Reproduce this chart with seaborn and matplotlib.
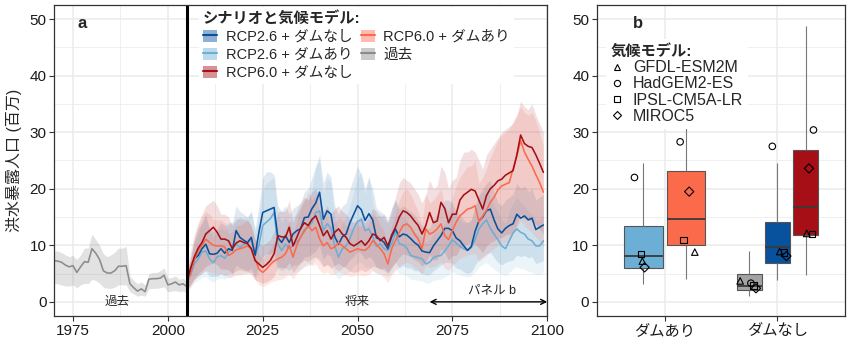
import numpy as np
import pandas as pd
import matplotlib
matplotlib.use("Agg")
import matplotlib.pyplot as plt
from matplotlib.patches import Patch
from matplotlib.lines import Line2D
from matplotlib.ticker import MultipleLocator
import seaborn as sns

sns.set_theme(style="white")
FONT = ["Liberation Sans", "Noto Sans CJK JP"]
plt.rcParams["font.family"] = FONT

# ---------------- panel a: time series ----------------
hist_years = list(range(1970, 2006))
hist_mean = [7.3, 7.2, 7.0, 6.5, 6.2, 6.4, 5.2, 6.2, 7.1, 7.0,
             9.4, 8.6, 7.5, 5.5, 5.1, 5.1, 5.5, 6.3, 6.3, 6.4,
             3.2, 2.5, 1.9, 2.3, 1.8, 4.0, 4.1, 4.1, 4.2, 4.7,
             3.0, 3.2, 3.5, 3.0, 3.2, 2.7]
hist_low = [3.3, 3.2, 3.0, 2.8, 2.8, 3.0, 2.5, 3.0, 3.3, 3.2,
            4.0, 3.8, 3.3, 2.6, 2.4, 2.4, 2.6, 3.0, 3.0, 3.0,
            1.8, 1.4, 1.0, 1.2, 1.0, 2.3, 2.4, 2.4, 2.5, 2.7,
            1.8, 1.9, 2.0, 1.8, 1.9, 1.6]
hist_high = [9.0, 9.0, 8.7, 8.3, 8.0, 8.2, 7.5, 8.3, 9.5, 9.5,
             12.0, 11.0, 10.0, 8.5, 8.0, 8.3, 8.8, 9.5, 9.5, 9.8,
             4.5, 3.8, 3.2, 3.5, 3.0, 5.0, 5.2, 5.2, 5.5, 6.0,
             4.2, 4.3, 4.6, 4.0, 4.2, 3.7]

fut_years = list(range(2005, 2100))

# RCP2.6 + no dams
r26n_mean = [3.8, 5.5, 7.6, 8.2, 9.4, 10.2, 8.5, 8.4, 8.6, 9.4,
             8.6, 9.4, 9.1, 12.6, 11.4, 10.9, 10.5, 11.4, 8.2, 12.3,
             15.8, 16.1, 16.4, 16.7, 11.4, 10.5, 11.7, 10.5, 12.0, 12.6,
             12.9, 14.9, 15.0, 16.5, 17.5, 19.4, 14.6, 16.1, 15.5, 11.5,
             10.2, 11.5, 12.0, 14.0, 15.5, 17.0, 16.3, 14.4, 15.6, 14.5,
             11.3, 11.1, 10.5, 9.4, 11.5, 12.9, 11.5, 12.0, 11.8, 11.2,
             10.5, 10.0, 9.0, 8.8, 8.7, 9.9, 10.8, 11.7, 13.0, 13.0,
             12.6, 11.3, 10.8, 9.9, 9.1, 9.8, 12.5, 14.3, 15.0, 16.1,
             16.4, 14.5, 12.9, 12.2, 13.0, 13.5, 13.8, 15.5, 14.8, 15.2,
             14.5, 14.8, 12.8, 13.2, 13.6]
r26n_high = [5, 8, 11, 13, 14, 15.5, 13, 12.5, 13, 14,
             13.5, 14, 14, 17, 16, 15.5, 15, 16, 13, 17,
             22, 23, 23, 22.5, 17, 16, 17, 15.5, 16.5, 17,
             17.5, 19.5, 20, 22, 24, 26, 21, 23, 22, 17,
             15.5, 17, 17.5, 20, 22, 24, 22.5, 20, 22, 20,
             16.5, 16, 15.5, 14.5, 16.5, 18, 16.5, 17, 16.5, 16,
             15.5, 14.5, 13.5, 13, 13, 14.5, 15.5, 16.5, 18, 18,
             17.5, 16, 15.5, 14.5, 14, 14.5, 17, 19, 20, 21,
             21.5, 19.5, 17.5, 17, 18, 18.5, 19, 21, 20, 20.5,
             19.5, 20, 18, 18.5, 19]
r26n_low = [2.5, 3, 4, 4.5, 5, 5.5, 4.5, 4.5, 4.5, 5,
            4.5, 5, 5, 6.5, 6, 5.8, 5.5, 6, 4.5, 6.5,
            8, 8.5, 8.5, 9, 6, 5.5, 6, 5.5, 6.5, 6.5,
            7, 8, 8, 8.5, 9, 10, 7.5, 8.5, 8, 6,
            5.5, 6, 6.5, 7.5, 8, 9, 8.5, 7.5, 8, 7.5,
            6, 6, 5.5, 5, 6, 7, 6, 6.5, 6, 6,
            5.5, 5.5, 5, 4.8, 4.8, 5.5, 6, 6.5, 7, 7,
            6.8, 6, 5.8, 5.3, 5, 5.3, 6.5, 7.5, 8, 8.5,
            8.8, 7.8, 7, 6.5, 7, 7.2, 7.4, 8.3, 8, 8.2,
            7.8, 8, 6.8, 7, 7.3]

# RCP2.6 + dams
r26d_mean = [3.8, 4.7, 6.7, 7.6, 8.8, 9.0, 7.6, 6.9, 8.0, 8.2,
             7.7, 8.8, 9.4, 10.2, 9.6, 10.2, 10.3, 11.1, 8.2, 10.0,
             13.5, 14.1, 14.7, 15.8, 10.2, 9.1, 10.2, 9.4, 10.0, 10.6,
             11.4, 12.8, 13.2, 14.0, 15.8, 16.1, 12.6, 13.8, 13.0, 9.9,
             7.9, 9.4, 9.9, 11.2, 13.0, 14.2, 14.6, 12.6, 12.9, 11.5,
             9.8, 10.3, 9.4, 9.1, 10.2, 12.3, 10.3, 10.1, 9.5, 8.2,
             8.0, 7.8, 7.6, 6.7, 7.0, 7.8, 8.1, 8.2, 9.0, 9.9,
             11.0, 10.4, 9.8, 9.4, 9.1, 9.6, 11.0, 12.9, 13.8, 14.5,
             13.0, 12.0, 11.0, 9.9, 9.4, 10.8, 12.2, 12.9, 12.3, 12.0,
             11.1, 10.8, 9.9, 9.9, 10.8]
r26d_high = [5, 7.5, 10.5, 12, 14, 15, 12.5, 11.5, 12.5, 13,
             12.5, 13.5, 14, 15, 14.5, 15, 15, 16, 12.5, 15,
             20, 21, 21.5, 22, 15.5, 14, 15, 14, 15, 15.5,
             16.5, 18, 18.5, 20, 24, 25, 19, 22, 21, 15,
             12.5, 14, 15, 17, 19.5, 22, 23, 19, 22.5, 17.5,
             15, 15.5, 14.5, 14, 15.5, 18, 15.5, 15, 14.5, 13,
             12.5, 12, 11.5, 10.5, 11, 12, 12.5, 13, 14, 15,
             16.5, 15.5, 14.5, 14, 14, 14.5, 16.5, 18.5, 19.5, 20,
             18.5, 17, 16, 14.5, 14, 16, 17.5, 18.5, 17.5, 17,
             16, 15.5, 14.5, 14.5, 15.5]
r26d_low = [2.3, 2.6, 3.4, 3.8, 4.3, 4.5, 3.8, 3.5, 4, 4.2,
            4, 4.4, 4.6, 5, 4.7, 5, 5, 5.4, 4.1, 5,
            6.5, 6.8, 7, 7.5, 5, 4.5, 5, 4.6, 5, 5.2,
            5.6, 6.2, 6.4, 6.8, 7.6, 7.8, 6.2, 6.7, 6.4, 4.9,
            4, 4.6, 4.9, 5.5, 6.3, 6.9, 7, 6.1, 6.3, 5.6,
            4.8, 5, 4.6, 4.5, 5, 6, 5, 4.9, 4.6, 4,
            3.9, 3.8, 3.7, 3.3, 3.4, 3.8, 3.9, 4, 4.4, 4.8,
            5.3, 5, 4.7, 4.5, 4.4, 4.6, 5.3, 6.2, 6.6, 7,
            6.3, 5.8, 5.3, 4.8, 4.6, 5.2, 5.9, 6.2, 5.9, 5.8,
            5.4, 5.2, 4.8, 4.8, 5.2]

# RCP6.0 + no dams
r60n_mean = [3.5, 6.0, 8.0, 9.5, 10.5, 12.0, 12.6, 13.2, 12.3, 11.1,
             11.1, 10.8, 9.4, 10.4, 10.8, 10.5, 10.3, 9.4, 7.3, 6.7,
             6.1, 6.6, 7.3, 8.5, 11.7, 11.5, 11.4, 13.2, 9.9, 11.4,
             13.0, 14.0, 13.5, 14.6, 15.2, 13.5, 11.7, 12.6, 11.1, 12.3,
             12.9, 12.0, 11.4, 10.3, 9.9, 10.3, 10.8, 10.0, 10.8, 12.0,
             11.7, 10.8, 11.4, 9.9, 11.8, 13.2, 15.0, 16.1, 15.8, 15.2,
             14.3, 13.5, 12.0, 13.5, 15.8, 14.0, 14.3, 17.6, 16.5, 14.0,
             15.5, 15.5, 18.0, 18.9, 19.4, 19.9, 19.6, 18.0, 16.4, 18.8,
             20.0, 20.6, 21.4, 21.7, 22.4, 22.8, 23.2, 26.0, 29.5, 28.0,
             27.5, 27.3, 26.0, 24.5, 22.9]
r60n_high = [5, 9, 12, 14, 15.5, 17, 17.5, 18, 17, 15.5,
             15.5, 15, 13.5, 14.5, 15, 14.5, 14.5, 13.5, 11, 10.5,
             10, 10.5, 11, 12.5, 16, 16, 16, 18, 14, 16,
             17.5, 18.5, 18, 19.5, 20, 18, 16, 17, 15.5, 16.5,
             17, 16, 15.5, 14.5, 14, 14.5, 15, 14, 15, 16.5,
             16, 15, 15.5, 14, 16.5, 18.5, 21, 22, 21.5, 21,
             20, 19, 17.5, 19, 21.5, 20, 20.5, 24, 23, 20,
             21.5, 22, 25, 26.5, 26.5, 27, 26.5, 25, 23.5, 26,
             27, 28, 29, 30, 30.5, 31, 31.5, 33, 35.5, 34.5,
             34, 35, 33, 31.5, 30]
r60n_low = [2, 3.2, 4.2, 5, 5.5, 6.3, 6.6, 7, 6.5, 5.8,
            5.8, 5.7, 5, 5.5, 5.7, 5.5, 5.4, 5, 3.9, 3.6,
            3.3, 3.5, 3.9, 4.5, 6.2, 6.1, 6, 7, 5.2, 6,
            6.9, 7.4, 7.1, 7.7, 8, 7.1, 6.2, 6.6, 5.9, 6.5,
            6.8, 6.3, 6, 5.4, 5.2, 5.4, 5.7, 5.3, 5.7, 6.3,
            6.2, 5.7, 6, 5.2, 6.2, 7, 7.9, 8.5, 8.3, 8,
            7.5, 7.1, 6.3, 7.1, 8.3, 7.4, 7.5, 9.3, 8.7, 7.4,
            8.2, 8.2, 9.5, 10, 10.2, 10.5, 10.3, 9.5, 8.7, 9.9,
            10.5, 10.8, 11.2, 11.4, 11.8, 12, 12.2, 13.7, 15.5, 14.7,
            14.5, 14.4, 13.7, 12.9, 12]

# RCP6.0 + dams
r60d_mean = [3.2, 5.0, 7.5, 9.0, 10.0, 11.1, 10.5, 10.0, 9.9, 9.9,
             9.7, 8.2, 8.6, 9.2, 9.4, 9.6, 9.9, 9.4, 7.6, 5.8,
             5.2, 5.8, 6.6, 7.2, 7.6, 7.9, 8.5, 10.0, 7.9, 10.0,
             11.5, 12.5, 13.5, 12.6, 13.2, 11.1, 9.9, 10.5, 9.4, 9.7,
             10.5, 9.9, 9.4, 8.8, 9.1, 9.4, 9.2, 9.1, 9.7, 10.8,
             10.2, 9.4, 8.5, 6.7, 9.4, 10.8, 12.3, 13.5, 13.8, 13.2,
             12.0, 11.1, 9.4, 12.9, 12.0, 12.3, 12.9, 13.8, 11.7, 11.0,
             12.6, 14.1, 15.2, 15.8, 16.4, 16.6, 17.0, 14.1, 15.2, 16.2,
             17.6, 18.5, 19.8, 20.5, 20.8, 21.1, 23.5, 25.8, 28.5, 26.5,
             25.2, 24.0, 22.5, 21.1, 19.4]
r60d_high = [4.5, 7.5, 11, 13.5, 15, 16, 15.5, 14.5, 14.5, 14.5,
             14, 12, 12.5, 13.5, 13.5, 14, 14.5, 13.5, 11, 8.5,
             7.5, 8.5, 9.5, 10.5, 11, 11.5, 12.5, 14.5, 11.5, 14.5,
             16.5, 18, 19.5, 18, 19, 16, 14.5, 15, 13.5, 14,
             15, 14.5, 13.5, 13, 13, 13.5, 13.5, 13, 14, 15.5,
             15, 13.5, 12.5, 10, 13.5, 15.5, 18, 19.5, 20, 19,
             17.5, 16, 14, 19, 17.5, 18, 19, 20, 17, 16,
             18.5, 20.5, 22, 23, 24, 24, 25, 21, 22, 23.5,
             25.5, 27, 28.5, 29.5, 30, 30.5, 32, 33, 34.5, 33.5,
             33, 33.5, 32, 30, 27.5]
r60d_low = [1.8, 2.6, 3.9, 4.6, 5.1, 5.6, 5.3, 5.1, 5, 5,
            4.9, 4.2, 4.4, 4.7, 4.8, 4.9, 5, 4.8, 3.9, 3,
            2.7, 3, 3.4, 3.7, 3.9, 4, 4.3, 5.1, 4, 5.1,
            5.8, 6.3, 6.8, 6.4, 6.7, 5.6, 5, 5.3, 4.8, 4.9,
            5.3, 5, 4.8, 4.5, 4.6, 4.8, 4.7, 4.6, 4.9, 5.5,
            5.2, 4.8, 4.3, 3.4, 4.8, 5.5, 6.2, 6.8, 7, 6.7,
            6.1, 5.6, 4.8, 6.5, 6.1, 6.2, 6.5, 7, 5.9, 5.6,
            6.4, 7.1, 7.7, 8, 8.3, 8.4, 8.6, 7.1, 7.7, 8.2,
            8.9, 9.4, 10, 10.4, 10.5, 10.7, 11.9, 13.1, 14.4, 13.4,
            12.8, 12.2, 11.4, 10.7, 9.8]

scenario_labels = ["RCP2.6 + ダムなし", "RCP2.6 + ダムあり",
                   "RCP6.0 + ダムなし", "RCP6.0 + ダムあり", "過去"]
scenario_colors = ["#08519C", "#6BAED6", "#A50F15", "#FB6A4A", "#8C8C8C"]
palette = dict(zip(scenario_labels, scenario_colors))
ribbon_alpha = {"過去": 0.25, "RCP2.6 + ダムあり": 0.13, "RCP2.6 + ダムなし": 0.12,
                "RCP6.0 + ダムあり": 0.15, "RCP6.0 + ダムなし": 0.13}

series = {
    "過去": (hist_years, hist_mean, hist_low, hist_high),
    "RCP2.6 + ダムあり": (fut_years, r26d_mean, r26d_low, r26d_high),
    "RCP2.6 + ダムなし": (fut_years, r26n_mean, r26n_low, r26n_high),
    "RCP6.0 + ダムあり": (fut_years, r60d_mean, r60d_low, r60d_high),
    "RCP6.0 + ダムなし": (fut_years, r60n_mean, r60n_low, r60n_high),
}

lines_df = pd.concat(
    [pd.DataFrame({"year": s[0], "value": s[1], "scenario": name})
     for name, s in series.items()],
    ignore_index=True)

# ---------------- panel b: 2070-2099 distributions ----------------
categories = ["ダムあり", "ダムなし"]
# five-number summaries: min, lower quartile, median, upper quartile, max
box_r26_dam = [3.1, 5.9, 8.1, 13.4, 24.5]
box_r60_dam = [4.1, 10.1, 14.6, 23.2, 38.5]
box_hist = [1.1, 2.1, 2.8, 5.0, 9.0]
box_r26_nodam = [3.9, 6.9, 9.7, 14.1, 24.5]
box_r60_nodam = [4.7, 11.9, 16.8, 26.9, 48.8]

box_groups = {
    "ダムあり": [("RCP2.6 + ダムあり", box_r26_dam), ("RCP6.0 + ダムあり", box_r60_dam)],
    "ダムなし": [("過去", box_hist), ("RCP2.6 + ダムなし", box_r26_nodam),
               ("RCP6.0 + ダムなし", box_r60_nodam)],
}
box_fill = {
    "RCP2.6 + ダムあり": "#6BAED6", "RCP6.0 + ダムあり": "#FB6A4A",
    "過去": "#A3A3A3", "RCP2.6 + ダムなし": "#08519C", "RCP6.0 + ダムなし": "#A50F15",
}

models = ["GFDL-ESM2M", "HadGEM2-ES", "IPSL-CM5A-LR", "MIROC5"]
model_markers = {"GFDL-ESM2M": "^", "HadGEM2-ES": "o",
                 "IPSL-CM5A-LR": "s", "MIROC5": "D"}
# model means per box (order follows `models`)
pts_r26_dam = [7.2, 22.0, 8.5, 6.1]
pts_r60_dam = [8.8, 28.3, 10.9, 19.5]
pts_hist = [3.7, 3.3, 2.9, 2.4]
pts_r26_nodam = [8.9, 27.5, 8.7, 8.1]
pts_r60_nodam = [12.1, 30.4, 12.0, 23.6]
# horizontal jitter of the model points inside each box
jit_r26_dam = [-0.01, -0.08, -0.02, 0.01]
jit_r60_dam = [0.08, -0.05, -0.02, 0.03]
jit_hist = [-0.08, 0.015, 0.04, 0.06]
jit_r26_nodam = [0.02, -0.045, 0.06, 0.08]
jit_r60_nodam = [0.01, 0.07, 0.055, 0.03]
points = {
    "RCP2.6 + ダムあり": (pts_r26_dam, jit_r26_dam),
    "RCP6.0 + ダムあり": (pts_r60_dam, jit_r60_dam),
    "過去": (pts_hist, jit_hist),
    "RCP2.6 + ダムなし": (pts_r26_nodam, jit_r26_nodam),
    "RCP6.0 + ダムなし": (pts_r60_nodam, jit_r60_nodam),
}

# ---------------- figure ----------------
fig = plt.figure(figsize=(8.51, 3.40), dpi=100)
ax = fig.add_axes([0.0635, 0.0706, 0.5795, 0.9147])
axb = fig.add_axes([0.7015, 0.0706, 0.2915, 0.9147])

GRID = "#EBEBEB"
FRAME = "#333333"
TICK_FS = 11
LEG_FS = 10.5


def style_axes(a):
    a.set_axisbelow(True)
    a.grid(which="major", color=GRID, linewidth=1.1)
    a.grid(which="minor", color=GRID, linewidth=0.55)
    for sp in a.spines.values():
        sp.set_color(FRAME)
        sp.set_linewidth(0.9)
        sp.set_visible(True)
    a.tick_params(which="major", direction="out", length=3.5, width=0.8,
                  color=FRAME, labelsize=TICK_FS, labelcolor="#1A1A1A",
                  bottom=True, left=True, pad=2)
    a.tick_params(which="minor", length=0)
    a.set_ylim(-2.5, 52.5)
    a.yaxis.set_major_locator(MultipleLocator(10))
    a.yaxis.set_minor_locator(MultipleLocator(5))


# panel a
style_axes(ax)
for name, (yrs, m, lo, hi) in series.items():
    ax.fill_between(yrs, lo, hi, color=palette[name],
                    alpha=ribbon_alpha[name], linewidth=0)
sns.lineplot(data=lines_df, x="year", y="value", hue="scenario",
             hue_order=list(series.keys()), palette=palette,
             linewidth=1.15, errorbar=None, legend=False, ax=ax)
ax.axvline(2005, color="black", linewidth=2.2)
ax.set_xlim(1970, 2100)
ax.xaxis.set_major_locator(MultipleLocator(25))
ax.xaxis.set_minor_locator(MultipleLocator(12.5))
ax.set_xlabel("")
ax.set_ylabel("洪水暴露人口 (百万)", fontsize=11.5, labelpad=5)

ax.text(1986.5, 0, "過去", ha="center", va="center", fontsize=9)
ax.text(2050, 0, "将来", ha="center", va="center", fontsize=9)
ax.text(2085.5, 2.0, "パネル b", ha="center", va="center", fontsize=9)
ax.annotate("", xy=(2100, 0), xytext=(2069, 0),
            arrowprops=dict(arrowstyle="<->", color="black", lw=1.0,
                            shrinkA=0, shrinkB=0, mutation_scale=9),
            annotation_clip=False)
ax.text(1977.4, 49.3, "a", ha="center", va="center",
        fontsize=12, fontweight="bold")

handles = [(Patch(facecolor=palette[n], alpha=0.45, edgecolor="none"),
            Line2D([], [], color=palette[n], linewidth=1.5))
           for n in scenario_labels]
leg = ax.legend(handles, scenario_labels, ncol=2, loc="upper left",
                bbox_to_anchor=(0.293, 0.995), frameon=True,
                title="シナリオと気候モデル:", fontsize=LEG_FS,
                title_fontproperties={"weight": "bold", "size": 11,
                                      "family": FONT},
                alignment="left", handlelength=1.0, handleheight=0.9,
                handletextpad=0.55, columnspacing=0.6, labelspacing=0.27,
                borderpad=0.3, borderaxespad=0.0)
leg.get_frame().set_facecolor("white")
leg.get_frame().set_edgecolor("none")
leg.get_frame().set_alpha(1.0)

# panel b
style_axes(axb)
box_rows, pt_rows = [], []
for ci, cat in enumerate(categories, start=1):
    members = box_groups[cat]
    n = len(members)
    slot = 0.75 / n
    for k, (name, stats) in enumerate(members):
        pos = ci + (k - (n - 1) / 2) * slot
        for v in stats:
            box_rows.append({"group": cat, "pos": pos, "value": v, "scenario": name})
        vals, jit = points[name]
        for mdl, v, j in zip(models, vals, jit):
            pt_rows.append({"x": pos + j, "value": v, "model": mdl})
box_df = pd.DataFrame(box_rows)
pt_df = pd.DataFrame(pt_rows)

for cat in categories:
    sub = box_df[box_df["group"] == cat]
    sns.boxplot(data=sub, x="pos", y="value", hue="scenario", palette=box_fill,
                native_scale=True, width=0.9, dodge=False, whis=(0, 100),
                saturation=1, linecolor="#555555", linewidth=0.8,
                legend=False, ax=axb, orient="x",
                whiskerprops={"color": "#777777", "linewidth": 0.8},
                capprops={"visible": False},
                medianprops={"color": "#3A3A3A", "linewidth": 1.3})

sns.scatterplot(data=pt_df, x="x", y="value", style="model",
                style_order=models, markers=model_markers, s=22,
                color="black", linewidth=0.8, legend=False, ax=axb, zorder=5)
for coll in axb.collections:
    if coll.get_zorder() == 5:
        coll.set_facecolor("none")
        coll.set_edgecolor("black")

axb.set_xlim(0.4, 2.6)
axb.set_xticks([1, 2])
axb.set_xticklabels(categories)
axb.xaxis.set_minor_locator(plt.NullLocator())
axb.set_xlabel("")
axb.set_ylabel("")
axb.text(0.76, 49.3, "b", ha="center", va="center",
         fontsize=12, fontweight="bold")

mhandles = [Line2D([], [], linestyle="none", marker=model_markers[m],
                   markerfacecolor="none", markeredgecolor="black",
                   markersize=4.5, markeredgewidth=0.8) for m in models]
legb = axb.legend(mhandles, models, loc="upper left",
                  bbox_to_anchor=(0.035, 0.89), frameon=True,
                  title="気候モデル:", fontsize=11.5,
                  title_fontproperties={"weight": "bold", "size": 11,
                                        "family": FONT},
                  alignment="left", handlelength=0.8, handletextpad=0.6,
                  labelspacing=0.08, borderpad=0.3, borderaxespad=0.0)
legb.get_frame().set_facecolor("white")
legb.get_frame().set_edgecolor("none")
legb.get_frame().set_alpha(1.0)
legb.set_zorder(10)

fig.savefig("out.png", dpi=100)
